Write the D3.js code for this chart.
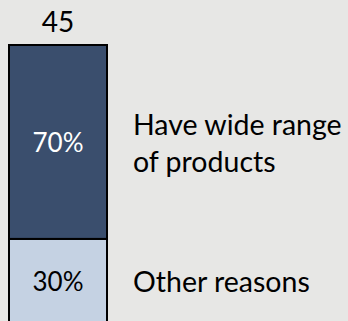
<!DOCTYPE html>
<html>
<head>
<meta charset="utf-8">
<script src="https://cdn.jsdelivr.net/npm/d3@7"></script>
<style>
  html, body { margin: 0; padding: 0; background: #e7e7e5; }
  svg { display: block; }
  text { font-family: Lato, "Open Sans", sans-serif; }
</style>
</head>
<body>
<script>
// Single stacked column: share of reasons among respondents
const total = 45;
const columns = ["All"];
const segments = ["Have wide range of products", "Other reasons"];
const segmentLines = [["Have wide range", "of products"], ["Other reasons"]];
const shares = [70, 30];
const shareLabels = ["70%", "30%"];

const width = 348, height = 321;
const svg = d3.select("body").append("svg")
  .attr("width", width).attr("height", height);

const x = d3.scaleBand().domain(columns).range([9, 107]);
const y = d3.scaleLinear().domain([0, 100]).range([322, 45]);

// stack from the bottom: "Other reasons" first, then the main reason on top
const order = [1, 0];
let acc = 0;
const stacked = order.map(i => {
  const d = { i, y0: acc, y1: acc + shares[i] };
  acc += shares[i];
  return d;
});

const fills = ["#3a4e6d", "#c5d2e3"];
const textFills = ["#ffffff", "#000000"];

const col = columns[0];
svg.selectAll("rect.seg").data(stacked).join("rect")
  .attr("class", "seg")
  .attr("x", x(col))
  .attr("width", x.bandwidth())
  .attr("y", d => y(d.y1))
  .attr("height", d => y(d.y0) - y(d.y1))
  .attr("fill", d => fills[d.i])
  .attr("stroke", "#000")
  .attr("stroke-width", 2);

// value labels inside segments
svg.selectAll("text.val").data(stacked).join("text")
  .attr("class", "val")
  .attr("x", x(col) + x.bandwidth() / 2)
  .attr("y", d => (y(d.y0) + y(d.y1)) / 2 + 10.5)
  .attr("text-anchor", "middle")
  .attr("font-size", 26)
  .attr("fill", d => textFills[d.i])
  .text(d => shareLabels[d.i]);

// column total above
svg.append("text")
  .attr("x", x(col) + x.bandwidth() / 2)
  .attr("y", y(100) - 13)
  .attr("text-anchor", "middle")
  .attr("font-size", 28)
  .attr("fill", "#000")
  .text(total);

// category names to the right of each segment
const lineH = 37;
stacked.forEach(d => {
  const lines = segmentLines[d.i];
  const mid = (y(d.y0) + y(d.y1)) / 2;
  const first = mid - (lines.length - 1) * lineH / 2 + 12;
  const t = svg.append("text")
    .attr("x", 133)
    .attr("font-size", 28.5)
    .attr("fill", "#000");
  lines.forEach((ln, k) => {
    t.append("tspan").attr("x", 133).attr("y", first + k * lineH).text(ln);
  });
});
</script>
</body>
</html>
